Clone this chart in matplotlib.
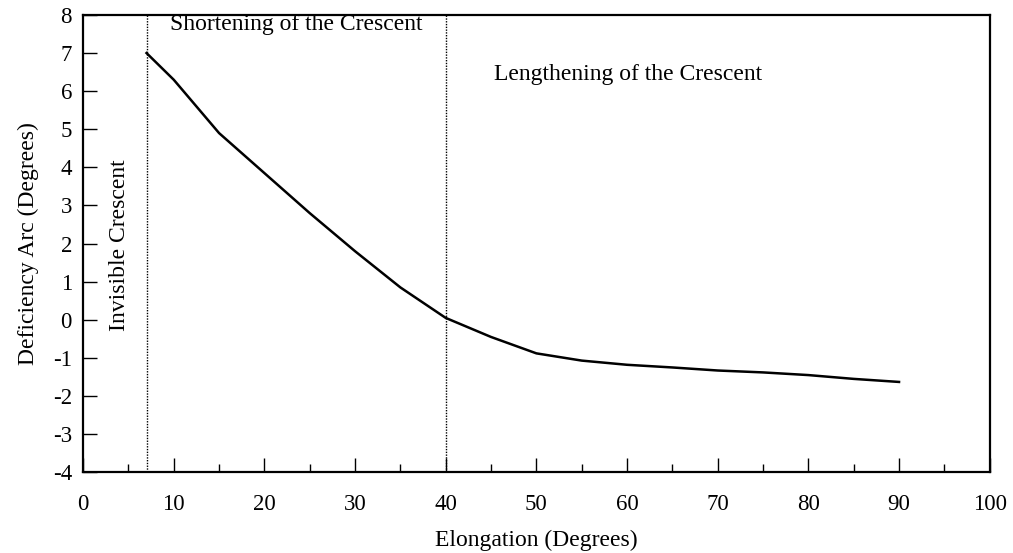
import matplotlib.pyplot as plt
import numpy as np
from matplotlib.ticker import MultipleLocator

plt.rcParams['font.family'] = ['Liberation Serif', 'DejaVu Serif']
plt.rcParams['axes.unicode_minus'] = False

# deficiency arc vs elongation
elong = [7, 10, 15, 20, 25, 30, 35, 40, 45, 50, 55, 60, 65, 70, 75, 80, 85, 90]
deficiency = [7.0, 6.3, 4.9, 3.85, 2.8, 1.8, 0.85, 0.05, -0.45, -0.88,
              -1.07, -1.18, -1.25, -1.33, -1.38, -1.45, -1.55, -1.63]
limits = [7, 40]

fig = plt.figure(figsize=(10.13, 5.53), dpi=100)
ax = fig.add_axes([0.082, 0.146, 0.895, 0.827])

ax.plot(elong, deficiency, color='black', lw=1.8)
for x in limits:
    ax.axvline(x, color='black', lw=1.0, ls=(0, (1, 1)))

ax.set_xlim(0, 100)
ax.set_ylim(-4, 8)
ax.xaxis.set_major_locator(MultipleLocator(10))
ax.xaxis.set_minor_locator(MultipleLocator(5))
ax.yaxis.set_major_locator(MultipleLocator(1))
ax.tick_params(axis='both', which='major', direction='in', length=10, width=1,
               labelsize=16.5, top=False, right=False)
ax.tick_params(axis='x', which='minor', direction='in', length=6, width=1)
ax.tick_params(axis='x', pad=16)
ax.tick_params(axis='y', pad=8)
for s in ax.spines.values():
    s.set_linewidth(1.6)

ax.set_xlabel('Elongation (Degrees)', fontsize=17, labelpad=10)
ax.set_ylabel('Deficiency Arc (Degrees)', fontsize=17, labelpad=10)

ax.text(4, 1.95, 'Invisible Crescent', rotation=90, fontsize=17,
        ha='center', va='center')
ax.text(9.6, 7.75, 'Shortening of the Crescent', fontsize=17,
        ha='left', va='center')
ax.text(45.3, 6.43, 'Lengthening of the Crescent', fontsize=17,
        ha='left', va='center')

fig.savefig('out.png', dpi=100)
